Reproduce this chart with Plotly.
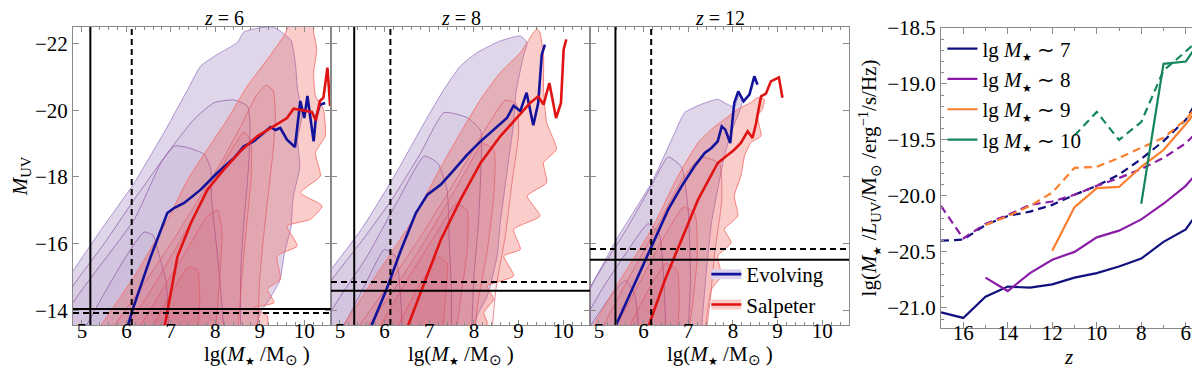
import plotly.graph_objects as go
from plotly.subplots import make_subplots

FONT = 'Liberation Serif'
STAR = '<sub><span style="font-size:11px">★</span></sub>'

# ---------------- left panels: lg M* vs M_UV ----------------
redshifts = [6, 8, 12]

# density contours (outer -> inner), (lg M*, M_UV) vertices
evo_z6 = [
    [(3.8, -13.3), (4.8, -15.18), (5.44, -16.43), (6.18, -17.83), (6.93, -19.53), (7.38, -20.63), (7.67, -21.33),
     (8.05, -21.68), (8.49, -22.03), (8.64, -22.35), (8.9, -22.45), (9.3, -22.5), (9.7, -22.1), (9.8, -21.4),
     (9.85, -20.6), (9.95, -19.9), (9.85, -19.1), (9.9, -18.3), (9.75, -17.4), (9.7, -16.5), (9.55, -15.7),
     (9.45, -14.9), (9.2, -14.3), (9.0, -13.9), (8.9, -13.3)],
    [(4.2, -13.3), (4.8, -14.73), (5.5, -16.0), (6.18, -17.33), (6.93, -18.73), (7.52, -19.73), (7.97, -20.23),
     (8.42, -20.31), (8.72, -20.13), (8.78, -19.63), (8.76, -18.63), (8.72, -17.83), (8.64, -16.63),
     (8.57, -15.13), (8.57, -13.3)],
    [(4.5, -13.3), (4.8, -14.23), (5.5, -15.5), (6.18, -16.73), (6.78, -18.43), (7.08, -18.93), (7.38, -18.88),
     (7.75, -18.68), (7.9, -18.23), (7.91, -17.43), (7.97, -16.63), (8.05, -15.63), (8.12, -14.63), (8.2, -13.3)],
    [(5.0, -13.3), (5.5, -14.5), (6.03, -15.7), (6.4, -16.35), (6.6, -16.25), (6.75, -15.6), (6.9, -14.8),
     (6.95, -13.3)],
]
sal_z6 = [
    [(5.3, -13.3), (6.18, -15.03), (6.93, -16.73), (7.38, -17.93), (7.82, -18.83), (8.27, -19.73), (8.72, -20.73),
     (9.17, -21.53), (9.54, -22.23), (9.69, -22.6), (10.2, -22.6), (10.21, -22.33), (10.28, -21.83),
     (10.21, -21.13), (10.25, -20.43), (10.43, -20.03), (10.47, -19.23), (10.25, -18.73), (10.36, -18.03),
     (9.91, -17.53), (10.4, -17.13), (10.14, -16.73), (9.61, -16.53), (9.84, -15.93), (9.39, -15.63),
     (9.46, -14.93), (9.17, -14.63), (9.32, -14.23), (8.87, -14.08), (9.17, -13.83), (9.17, -13.3)],
    [(5.6, -13.3), (6.4, -14.8), (7.1, -16.2), (7.7, -17.5), (8.2, -18.6), (8.6, -19.6), (8.95, -20.5),
     (9.15, -20.75), (9.3, -20.6), (9.35, -19.8), (9.3, -18.8), (9.2, -17.6), (9.1, -16.4), (9.0, -15.0),
     (8.95, -13.3)],
    [(5.9, -13.3), (6.6, -14.7), (7.3, -16.3), (7.9, -17.7), (8.4, -18.9), (8.65, -19.35), (8.8, -19.1),
     (8.8, -17.9), (8.7, -16.5), (8.6, -15.0), (8.5, -13.3)],
    [(6.2, -13.3), (6.8, -14.6), (7.4, -15.9), (7.8, -16.8), (8.05, -17.0), (8.15, -16.3), (8.1, -15.0),
     (8.0, -13.3)],
    [(6.5, -13.3), (7.0, -14.5), (7.4, -15.3), (7.6, -15.2), (7.65, -14.3), (7.6, -13.3)],
]
evo_z8 = [
    [(3.8, -13.3), (4.81, -15.23), (5.48, -16.43), (6.22, -18.03), (6.89, -19.63), (7.33, -20.63), (7.7, -21.33),
     (8.07, -21.73), (8.59, -22.08), (9.04, -22.23), (9.19, -22.03), (9.11, -21.63), (8.95, -20.6),
     (8.89, -19.63), (8.74, -18.13), (8.59, -16.63), (8.52, -15.63), (8.3, -14.43), (8.07, -13.83), (8.0, -13.3)],
    [(4.1, -13.3), (4.81, -14.9), (5.5, -16.1), (6.2, -17.4), (6.8, -18.7), (7.33, -19.93), (7.85, -19.78),
     (8.15, -19.4), (8.15, -18.0), (8.1, -16.6), (8.0, -15.0), (7.95, -13.3)],
    [(4.5, -13.3), (5.0, -14.4), (5.6, -15.6), (6.3, -17.3), (6.89, -18.63), (7.2, -18.4), (7.4, -17.6),
     (7.45, -16.0), (7.5, -14.5), (7.5, -13.3)],
    [(5.0, -13.3), (5.5, -14.6), (6.0, -15.83), (6.25, -15.6), (6.35, -14.6), (6.4, -13.3)],
]
sal_z8 = [
    [(4.9, -13.3), (5.11, -13.63), (5.85, -15.13), (6.59, -16.63), (7.19, -18.13), (7.7, -19.33), (8.15, -20.33),
     (8.59, -21.13), (9.04, -21.73), (9.19, -22.03), (9.33, -22.33), (9.42, -22.45), (9.48, -22.33),
     (9.56, -21.63), (9.56, -20.63), (9.63, -19.63), (9.85, -18.83), (9.56, -18.43), (9.63, -17.83),
     (9.19, -17.43), (9.48, -16.83), (8.89, -16.43), (9.04, -15.83), (8.67, -15.63), (8.89, -15.03),
     (8.3, -14.73), (8.44, -14.33), (8.22, -13.93), (8.3, -13.63), (8.22, -13.3)],
    [(5.3, -13.3), (6.0, -14.6), (6.8, -16.2), (7.5, -17.7), (8.2, -19.3), (8.7, -20.3), (8.95, -20.2),
     (9.0, -19.3), (8.85, -17.8), (8.7, -16.2), (8.5, -14.7), (8.4, -13.3)],
    [(5.5, -13.3), (6.2, -14.6), (7.0, -16.3), (7.7, -17.9), (8.2, -19.0), (8.45, -18.8), (8.45, -17.5),
     (8.3, -15.8), (8.1, -14.3), (8.0, -13.3)],
    [(5.8, -13.3), (6.5, -14.9), (7.2, -16.4), (7.6, -17.2), (7.85, -17.0), (7.85, -15.8), (7.7, -14.3),
     (7.6, -13.3)],
    [(6.2, -13.3), (6.8, -14.8), (7.2, -15.6), (7.4, -15.4), (7.35, -14.2), (7.3, -13.3)],
]
evo_z12 = [
    [(4.0, -13.3), (4.77, -14.63), (5.44, -16.23), (6.18, -17.83), (6.7, -19.33), (6.92, -19.93), (7.29, -20.18),
     (7.66, -20.33), (7.81, -20.23), (8.03, -20.1), (8.15, -20.5), (8.2, -20.2), (7.96, -19.33), (7.81, -18.63),
     (7.66, -17.63), (7.52, -16.63), (7.44, -15.63), (7.37, -14.63), (7.29, -13.3)],
    [(4.3, -13.3), (4.9, -14.9), (5.6, -16.4), (6.2, -17.8), (6.55, -18.6), (6.85, -18.3), (7.0, -17.0),
     (7.05, -15.0), (7.0, -13.3)],
    [(4.5, -13.3), (5.1, -14.7), (5.7, -15.9), (6.1, -16.6), (6.35, -16.3), (6.45, -15.0), (6.5, -13.3)],
    [(4.7, -13.3), (5.3, -14.5), (5.6, -14.9), (5.8, -14.5), (5.9, -13.3)],
]
sal_z12 = [
    [(4.8, -13.3), (4.92, -13.63), (5.44, -14.83), (6.18, -16.43), (6.77, -18.03), (7.22, -19.03), (7.52, -19.43),
     (7.81, -19.73), (8.11, -20.03), (8.4, -20.23), (8.55, -20.38), (8.7, -20.33), (8.66, -20.03), (8.55, -19.83),
     (8.63, -19.23), (8.4, -19.03), (8.26, -18.63), (8.18, -18.03), (8.03, -17.43), (8.11, -16.83),
     (7.81, -16.43), (7.96, -16.03), (7.66, -15.63), (7.74, -15.03), (7.52, -14.63), (7.44, -14.03),
     (7.37, -13.3)],
    [(5.0, -13.3), (5.6, -14.8), (6.3, -16.5), (6.9, -18.0), (7.3, -18.6), (7.7, -18.4), (7.75, -17.3),
     (7.6, -15.8), (7.5, -14.4), (7.4, -13.3)],
    [(5.3, -13.3), (5.9, -14.8), (6.5, -16.3), (6.9, -17.1), (7.15, -16.9), (7.2, -15.6), (7.1, -14.2),
     (7.0, -13.3)],
    [(5.6, -13.3), (6.1, -14.6), (6.5, -15.4), (6.75, -15.2), (6.8, -14.2), (6.75, -13.3)],
]

# running medians
evo_med_z6_x = [6.03, 6.14, 6.55, 6.92, 7.07, 7.30, 7.67, 8.04, 8.42, 8.64, 8.86, 9.09, 9.24, 9.35, 9.46, 9.61,
                9.79, 9.91, 10.00, 10.07, 10.21, 10.26, 10.35, 10.47]
evo_med_z6_y = [-13.52, -14.02, -15.62, -16.92, -17.07, -17.22, -17.62, -18.12, -18.57, -18.92, -19.07, -19.32,
                -19.50, -19.41, -19.47, -19.12, -18.90, -20.28, -19.77, -20.43, -19.07, -19.77, -20.17, -20.22]
sal_med_z6_x = [6.86, 7.15, 7.45, 7.82, 8.19, 8.56, 8.94, 9.31, 9.61, 9.76, 9.91, 10.06, 10.17, 10.26, 10.35,
                10.43, 10.52, 10.58]
sal_med_z6_y = [-13.52, -15.62, -16.62, -17.62, -18.22, -18.77, -19.22, -19.52, -19.77, -20.05, -20.01, -19.98,
                -19.95, -19.70, -20.28, -20.38, -21.28, -20.13]
evo_med_z8_x = [5.70, 6.04, 6.37, 6.70, 6.96, 7.26, 7.56, 7.85, 8.15, 8.44, 8.74, 8.89, 9.04, 9.18, 9.33, 9.44,
                9.52, 9.59]
evo_med_z8_y = [-13.52, -14.62, -15.82, -16.92, -17.47, -17.77, -18.22, -18.67, -19.07, -19.42, -19.77, -20.14,
                -19.98, -20.53, -19.55, -20.22, -21.67, -21.97]
sal_med_z8_x = [6.52, 6.89, 7.26, 7.70, 8.15, 8.59, 8.96, 9.26, 9.44, 9.56, 9.69, 9.84, 9.95, 10.01, 10.07]
sal_med_z8_y = [-13.52, -14.82, -16.12, -17.32, -18.42, -19.22, -19.77, -20.22, -20.42, -20.17, -20.82, -19.77,
                -20.22, -21.83, -22.13]
evo_med_z12_x = [5.37, 5.81, 6.18, 6.55, 6.85, 7.14, 7.37, 7.52, 7.66, 7.75, 7.83, 7.94, 8.03, 8.12, 8.24, 8.37,
                 8.48, 8.55]
evo_med_z12_y = [-13.52, -14.82, -15.92, -17.02, -17.72, -18.32, -18.72, -18.87, -19.07, -19.52, -19.42, -19.02,
                 -20.22, -20.57, -20.27, -20.47, -21.02, -20.77]
sal_med_z12_x = [6.11, 6.48, 6.85, 7.22, 7.66, 8.03, 8.18, 8.33, 8.44, 8.52, 8.63, 8.74, 8.85, 9.03, 9.11]
sal_med_z12_y = [-13.52, -14.92, -16.12, -17.32, -18.42, -18.82, -19.02, -19.37, -19.17, -19.62, -20.42, -20.50,
                 -20.87, -20.99, -20.38]

# completeness limits
mass_lim_solid = [5.19, 5.32, 5.37]
mass_lim_dashed = [6.12, 6.13, 6.17]
muv_lim_solid = [-14.04, -14.59, -15.52]
muv_lim_dashed = [-13.92, -14.85, -15.84]

# ---------------- right panel: mass-to-light ratio vs z ----------------
z_grid = [17, 16, 15, 14, 13, 12, 11, 10, 9, 8, 7, 6, 5]
ml_m7 = [-21.04, -21.09, -20.90, -20.81, -20.82, -20.79, -20.73, -20.69, -20.63, -20.56, -20.41, -20.30, -20.02]
ml_m7_dash = [-20.40, -20.39, -20.26, -20.18, -20.14, -20.08, -19.99, -19.91, -19.81, -19.67, -19.51, -19.32, -18.99]
ml_m8 = [None, None, -20.73, -20.85, -20.69, -20.57, -20.50, -20.37, -20.31, -20.21, -20.07, -19.91, -19.68]
ml_m8_dash = [-20.09, -20.38, -20.25, -20.17, -20.08, -20.05, -19.99, -19.91, -19.84, -19.76, -19.66, -19.53, -19.33]
ml_m9 = [None, None, None, None, None, -20.49, -20.10, -19.93, -19.92, -19.74, -19.59, -19.36, -19.10]
ml_m9_dash = [None, None, -20.26, -20.18, -20.09, -19.97, -19.75, -19.74, -19.66, -19.57, -19.48, -19.32, -19.07]
ml_m10 = [None, None, None, None, None, None, None, None, None, -20.07, -18.82, -18.80, -18.51]
ml_m10_dash = [None, None, None, None, None, None, -19.46, -19.25, -19.50, -19.34, -18.88, -18.71, -18.53]
mass_bins = ['7', '8', '9', '10']

EVO_FILL = ['rgba(140,105,175,0.27)', 'rgba(120,70,150,0.06)']
EVO_EDGE = ['rgba(165,135,205,0.9)', 'rgba(140,85,165,0.7)']
SAL_FILL = ['rgba(240,90,80,0.3)', 'rgba(210,50,80,0.08)']
SAL_EDGE = ['rgba(245,115,110,0.9)', 'rgba(225,85,95,0.65)']
BLUE = '#12129a'
RED = '#e01212'
EVO_BAND = 'rgb(221,211,234)'
SAL_BAND = 'rgb(250,204,200)'


def add_contours(fig, levels, col, fills, edges):
    for i, poly in enumerate(levels):
        k = 0 if i == 0 else 1
        fig.add_trace(go.Scatter(
            x=[p[0] for p in poly], y=[p[1] for p in poly],
            mode='lines', fill='toself', fillcolor=fills[k],
            line=dict(color=edges[k], width=1, shape='spline', smoothing=0.5),
            showlegend=False, hoverinfo='skip'), row=1, col=col)


fig = make_subplots(rows=1, cols=4)

panels = [
    (evo_z6, sal_z6, evo_med_z6_x, evo_med_z6_y, sal_med_z6_x, sal_med_z6_y),
    (evo_z8, sal_z8, evo_med_z8_x, evo_med_z8_y, sal_med_z8_x, sal_med_z8_y),
    (evo_z12, sal_z12, evo_med_z12_x, evo_med_z12_y, sal_med_z12_x, sal_med_z12_y),
]

for i, (evo, sal, ex, ey, sx, sy) in enumerate(panels):
    col = i + 1
    add_contours(fig, evo, col, EVO_FILL, EVO_EDGE)
    add_contours(fig, sal, col, SAL_FILL, SAL_EDGE)
    fig.add_trace(go.Scatter(x=ex, y=ey, mode='lines', line=dict(color=BLUE, width=2.6),
                             showlegend=False), row=1, col=col)
    fig.add_trace(go.Scatter(x=sx, y=sy, mode='lines', line=dict(color=RED, width=2.6),
                             showlegend=False), row=1, col=col)
    fig.add_vline(x=mass_lim_solid[i], line=dict(color='black', width=2), row=1, col=col)
    fig.add_vline(x=mass_lim_dashed[i], line=dict(color='black', width=2, dash='6px,4px'), row=1, col=col)
    fig.add_hline(y=muv_lim_solid[i], line=dict(color='black', width=2), row=1, col=col)
    fig.add_hline(y=muv_lim_dashed[i], line=dict(color='black', width=2, dash='6px,4px'), row=1, col=col)

# legend of the left panels: pale band (legend2) under the median line (legend3)
for name, band, line in [('Evolving', EVO_BAND, BLUE), ('Salpeter', SAL_BAND, RED)]:
    fig.add_trace(go.Scatter(x=[None], y=[None], mode='lines', line=dict(color=band, width=14),
                             name=name, legend='legend2'), row=1, col=3)
    fig.add_trace(go.Scatter(x=[None], y=[None], mode='lines', line=dict(color=line, width=2.6),
                             name=name, legend='legend3'), row=1, col=3)

ml_colors = ['#10107e', '#8a1ca6', '#fb7f2c', '#14875a']
ml_solid = [ml_m7, ml_m8, ml_m9, ml_m10]
ml_dashed = [ml_m7_dash, ml_m8_dash, ml_m9_dash, ml_m10_dash]
for c, ys, yd, mb in zip(ml_colors, ml_solid, ml_dashed, mass_bins):
    fig.add_trace(go.Scatter(x=z_grid, y=yd, mode='lines', line=dict(color=c, width=2.2, dash='8px,5px'),
                             showlegend=False), row=1, col=4)
    fig.add_trace(go.Scatter(x=z_grid, y=ys, mode='lines', line=dict(color=c, width=2.2),
                             name='lg <i>M</i>' + STAR + ' ∼ ' + mb, legend='legend'), row=1, col=4)

W = 1135.0
doms = [(0, 258 / W), (258 / W, 517 / W), (517 / W, 776 / W), (868 / W, 1.0)]
axis_font = dict(family=FONT, size=21, color='black')
frame = dict(showline=True, linecolor='#8a8a8a', linewidth=1, mirror='ticks', ticks='inside',
             tickcolor='#8a8a8a', showgrid=False, zeroline=False, tickfont=axis_font, automargin=False)

for i in range(3):
    n = '' if i == 0 else str(i + 1)
    fig.layout['xaxis' + n].update(
        domain=doms[i], range=[4.8, 10.6], tickvals=[5, 6, 7, 8, 9, 10], ticklen=5, ticklabelstandoff=-13,
        minor=dict(ticks='inside', dtick=0.2, ticklen=3, tickcolor='#8a8a8a'), **frame)
    fig.layout['yaxis' + n].update(
        domain=[0.01, 1], range=[-13.56, -22.5], tickvals=[-22, -20, -18, -16, -14], ticklen=6,
        showticklabels=(i == 0), **frame)
fig.layout.yaxis.title = dict(text='<i>M</i><sub>UV</sub>', font=axis_font, standoff=4)

fig.layout.xaxis4.update(domain=doms[3], range=[17, 5], tickvals=[16, 14, 12, 10, 8, 6], ticklen=6,
                         ticklabelstandoff=-14,
                         minor=dict(ticks='inside', dtick=1, ticklen=3, tickcolor='#8a8a8a'), **frame)
fig.layout.yaxis4.update(domain=[0, 0.9967], range=[-21.18, -18.5], dtick=0.5, tick0=-18.5, tickformat='.1f',
                         ticklen=6, minor=dict(ticks='inside', dtick=0.1, ticklen=3, tickcolor='#8a8a8a'),
                         title=dict(text='lg(<i>M</i>' + STAR + ' /<i>L</i><sub>UV</sub>/M<sub>⊙</sub> '
                                         '/erg<sup>−1</sup>/s/Hz)', font=axis_font, standoff=4), **frame)

# panel titles and x-axis titles
for i, z in enumerate(redshifts):
    xc = (doms[i][0] + doms[i][1]) / 2
    fig.add_annotation(x=xc, y=1, xref='paper', yref='paper', yanchor='middle', yshift=9,
                       text='<i>z</i> = ' + str(z), showarrow=False, font=dict(family=FONT, size=20))
    fig.add_annotation(x=xc, y=0, xref='paper', yref='paper', yanchor='middle', yshift=-27,
                       text='lg(<i>M</i>' + STAR + ' /M<sub>⊙</sub> )', showarrow=False, font=axis_font)
fig.add_annotation(x=(doms[3][0] + doms[3][1]) / 2, y=0, xref='paper', yref='paper', yanchor='middle',
                   yshift=-29, text='<i>z</i>', showarrow=False, font=axis_font)

left_legend = dict(x=0.558, y=0.01, xanchor='left', yanchor='bottom', bgcolor='rgba(0,0,0,0)', tracegroupgap=0)
fig.update_layout(
    width=1200, height=366, margin=dict(l=65, r=0, t=19, b=46),
    paper_bgcolor='white', plot_bgcolor='white', template='none',
    font=dict(family=FONT, size=21, color='black'),
    legend=dict(x=0.766, y=0.995, xanchor='left', yanchor='top', bgcolor='rgba(0,0,0,0)',
                font=dict(family=FONT, size=21), tracegroupgap=0),
    legend2=dict(font=dict(family=FONT, size=21, color='rgba(0,0,0,0)'), **left_legend),
    legend3=dict(font=dict(family=FONT, size=21, color='black'), **left_legend),
)

fig.write_html('out.html')
